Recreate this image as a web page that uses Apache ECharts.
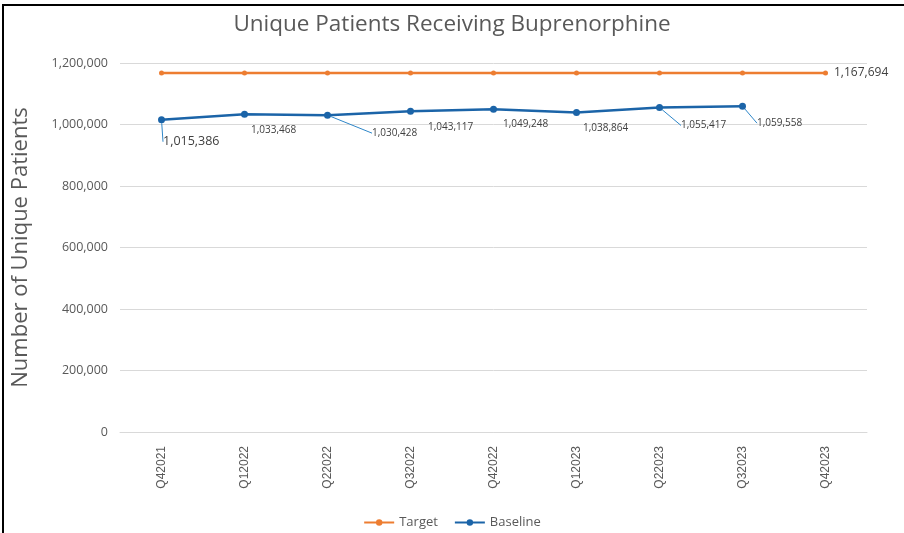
<!DOCTYPE html>
<html>
<head>
<meta charset="utf-8">
<script src="https://cdn.jsdelivr.net/npm/echarts@6/dist/echarts.min.js"></script>
<style>
  html, body { margin: 0; padding: 0; background: #fff; }
  #main { width: 904px; height: 533px; }
  #frame { position: absolute; left: 2px; top: 4px; width: 920px; height: 560px; border: 2px solid #000; pointer-events: none; }
</style>
</head>
<body>
<div id="main"></div>
<div id="frame"></div>
<script>
// quarters along the x axis
var quarters = ["Q42021", "Q12022", "Q22022", "Q32022", "Q42022", "Q12023", "Q22023", "Q32023", "Q42023"];
// target is flat across all quarters
var targetVals = [1167694, 1167694, 1167694, 1167694, 1167694, 1167694, 1167694, 1167694, 1167694];
// baseline has no value for the last quarter
var baselineVals = [1015386, 1033468, 1030428, 1043117, 1049248, 1038864, 1055417, 1059558, null];
var yTicks = [0, 200000, 400000, 600000, 800000, 1000000, 1200000];

// label shifts for the baseline points (px) and which ones have a leader line
var baseLabelShift = [[-6, 22], [-1, 16], [37, 18], [10, 16], [2, 15], [-1, 16], [14, 18], [7, 17]];
var baseLeader = [true, false, true, false, false, false, true, true];

function fmt(v) {
  return v.toLocaleString("en-US");
}

var baselineData = baselineVals.map(function (v, i) {
  return { value: v, labelLine: { show: !!baseLeader[i] } };
});

var myChart = echarts.init(document.getElementById("main"));
myChart.setOption({
  animation: false,
  title: {
    text: "Unique Patients Receiving Buprenorphine",
    left: "center",
    top: 8,
    textStyle: { fontFamily: "Open Sans", fontWeight: "normal", fontSize: 22.5, color: "#595959" }
  },
  legend: {
    top: 511,
    left: "center",
    itemWidth: 30,
    itemHeight: 8,
    itemGap: 16,
    textStyle: { fontFamily: "Open Sans", fontSize: 13, color: "#595959" },
    data: ["Target", "Baseline"]
  },
  grid: { left: 120, right: 37, top: 63, bottom: 101, outerBoundsMode: "none" },
  xAxis: {
    type: "category",
    data: quarters,
    axisTick: { show: false },
    axisLine: { lineStyle: { color: "#d9d9d9" } },
    axisLabel: {
      rotate: 90,
      margin: 14,
      fontFamily: "Liberation Sans",
      fontSize: 12,
      color: "#595959"
    }
  },
  yAxis: {
    type: "value",
    min: 0,
    max: yTicks[yTicks.length - 1],
    interval: 200000,
    name: "Number of Unique Patients",
    nameLocation: "middle",
    nameGap: 88,
    nameTextStyle: { fontFamily: "Open Sans", fontSize: 22, color: "#595959" },
    axisLine: { show: false },
    axisTick: { show: false },
    splitLine: { lineStyle: { color: "#d9d9d9" } },
    axisLabel: {
      margin: 12,
      fontFamily: "Open Sans",
      fontSize: 12.5,
      color: "#595959",
      formatter: function (v) { return fmt(v); }
    }
  },
  series: [
    {
      name: "Target",
      type: "line",
      data: targetVals,
      symbol: "circle",
      symbolSize: 5,
      itemStyle: { color: "#ED7D31" },
      lineStyle: { width: 2.5, color: "#ED7D31" },
      label: {
        show: true,
        position: "right",
        distance: 6,
        fontFamily: "Open Sans",
        fontSize: 12,
        color: "#404040",
        formatter: function (p) {
          return p.dataIndex === quarters.length - 1 ? fmt(p.value) : "";
        }
      }
    },
    {
      name: "Baseline",
      type: "line",
      data: baselineData,
      symbol: "circle",
      symbolSize: 7,
      itemStyle: { color: "#1b64a8" },
      lineStyle: { width: 2.5, color: "#1b64a8" },
      label: {
        show: true,
        position: "right",
        distance: 4,
        fontFamily: "Open Sans",
        fontSize: 10,
        color: "#404040",
        formatter: function (p) { return fmt(p.value); }
      },
      labelLine: { show: true, lineStyle: { color: "#2e86c8", width: 1 } },
      labelLayout: function (params) {
        var s = baseLabelShift[params.dataIndex] || [0, 0];
        return { dx: s[0], dy: s[1], fontSize: params.dataIndex === 0 ? 12.5 : 10 };
      }
    }
  ]
});
</script>
</body>
</html>
